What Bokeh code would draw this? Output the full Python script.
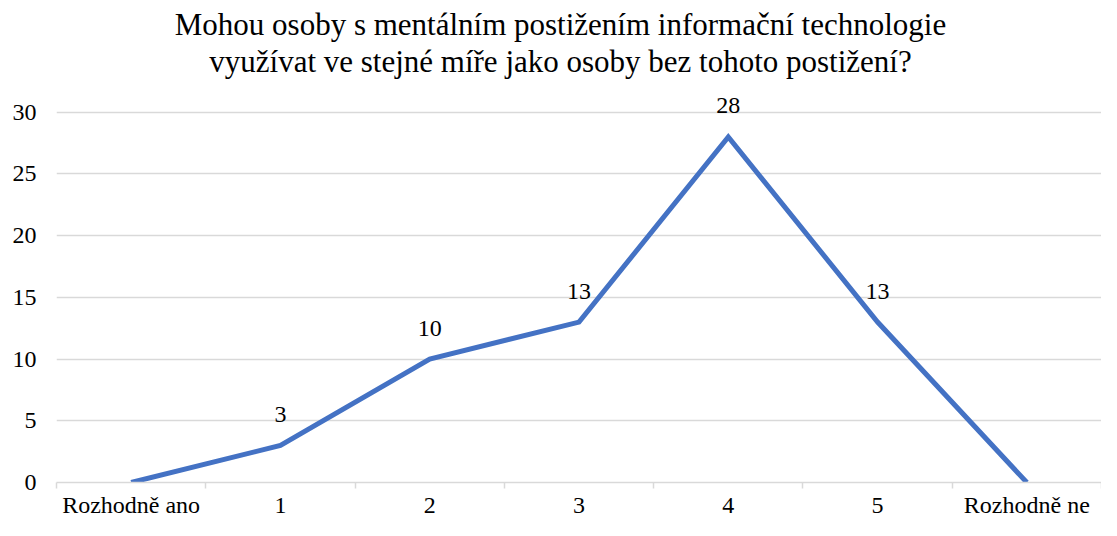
from bokeh.plotting import figure
from bokeh.models import FixedTicker, ColumnDataSource, LabelSet, Range1d, Label
from bokeh.embed import file_html
from bokeh.resources import INLINE

categories = ["Rozhodně ano", "1", "2", "3", "4", "5", "Rozhodně ne"]
values = [0, 3, 10, 13, 28, 13, 0]
title_lines = ["Mohou osoby s mentálním postižením informační technologie",
               "využívat ve stejné míře jako osoby bez tohoto postižení?"]
y_ticks = [0, 5, 10, 15, 20, 25, 30]

FONT = "Liberation Serif"
W, H = 1101, 520
LEFT = 56
FRAME_BOTTOM = 483   # canvas y of the frame's bottom edge (from top)
TOP_GRID_PX = 112    # canvas y where the 30 gridline should sit
# frame runs from the canvas top, so extend the y range to leave room for the title
y_end = max(y_ticks) * FRAME_BOTTOM / (FRAME_BOTTOM - TOP_GRID_PX)
xs = list(range(len(categories)))

p = figure(width=W, height=H, output_backend="svg", toolbar_location=None,
           x_range=Range1d(-0.5, len(categories) - 0.5), y_range=Range1d(0, y_end),
           min_border_left=LEFT, min_border_right=0, min_border_top=0, min_border_bottom=10)
p.outline_line_color = None
p.background_fill_color = "white"
p.border_fill_color = "white"
p.title = None

# two centred title lines (screen units are relative to the plot frame)
for line, top_px in zip(title_lines, [25, 62]):
    p.add_layout(Label(x=560 - LEFT, y=FRAME_BOTTOM - top_px, x_units="screen", y_units="screen",
                       text=line, text_align="center", text_baseline="middle",
                       text_font=FONT, text_font_size="31px", text_color="#000000"))

# grid
p.xgrid.grid_line_color = None
p.ygrid.grid_line_color = "#d9d9d9"
p.ygrid.grid_line_width = 1.5
p.yaxis.ticker = FixedTicker(ticks=y_ticks)
p.yaxis.axis_line_color = None
p.yaxis.major_tick_line_color = None
p.yaxis.minor_tick_line_color = None
p.yaxis.major_tick_out = 0
p.yaxis.major_label_text_font = FONT
p.yaxis.major_label_text_font_size = "24px"
p.yaxis.major_label_text_color = "#000000"
p.yaxis.major_label_standoff = 20

p.xaxis.ticker = FixedTicker(ticks=xs, minor_ticks=[i - 0.5 for i in range(len(categories) + 1)])
p.xaxis.major_label_overrides = {i: c for i, c in enumerate(categories)}
p.xaxis.axis_line_color = "#d9d9d9"
p.xaxis.axis_line_width = 1.5
p.xaxis.major_tick_line_color = None
p.xaxis.major_tick_out = 6
p.xaxis.minor_tick_line_color = "#d9d9d9"
p.xaxis.minor_tick_line_width = 1.5
p.xaxis.minor_tick_out = 6
p.xaxis.minor_tick_in = 0
p.xaxis.major_label_text_font = FONT
p.xaxis.major_label_text_font_size = "24px"
p.xaxis.major_label_text_color = "#000000"
p.xaxis.major_label_standoff = 3

src = ColumnDataSource(dict(x=xs, y=values, cat=categories))
p.line("x", "y", source=src, line_color="#4472C4", line_width=5, line_join="miter")

lab_src = ColumnDataSource(dict(x=[x for x, v in zip(xs, values) if v != 0],
                                y=[v for v in values if v != 0],
                                t=[str(v) for v in values if v != 0]))
labels = LabelSet(x="x", y="y", text="t", source=lab_src, text_align="center",
                  text_baseline="middle", y_offset=31, text_font=FONT,
                  text_font_size="24px", text_color="#000000")
p.add_layout(labels)

open("out.html", "w").write(file_html(p, INLINE))
